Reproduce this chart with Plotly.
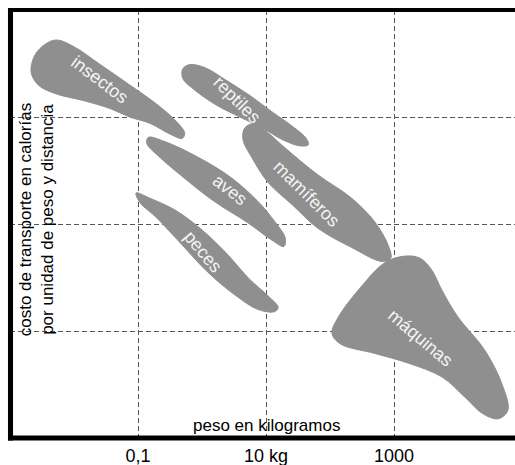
import plotly.graph_objects as go

# x in log10(kg), y in cost bands (grid units)
insectos_x = [-2.27, -1.98, -1.59, -1.13, -0.73, -0.42, -0.27, -0.31, -0.50, -0.81, -1.13, -1.44, -1.83, -2.30, -2.56, -2.67, -2.61, -2.45]
insectos_y = [3.72, 3.65, 3.49, 3.30, 3.13, 2.97, 2.85, 2.80, 2.84, 2.94, 3.00, 3.08, 3.15, 3.22, 3.30, 3.42, 3.58, 3.68]

reptiles_x = [-0.19, 0.05, 0.36, 0.75, 1.09, 1.42, 1.63, 1.66, 1.53, 1.25, 0.94, 0.59, 0.20, -0.11, -0.30, -0.30]
reptiles_y = [3.49, 3.46, 3.35, 3.20, 3.05, 2.91, 2.80, 2.74, 2.73, 2.79, 2.90, 3.00, 3.12, 3.25, 3.36, 3.45]

aves_x = [-0.84, -0.58, -0.08, 0.44, 0.86, 1.14, 1.30, 1.28, 1.09, 0.72, 0.17, -0.34, -0.69, -0.86]
aves_y = [2.81, 2.77, 2.63, 2.44, 2.22, 2.02, 1.87, 1.79, 1.85, 2.01, 2.22, 2.46, 2.64, 2.75]

peces_x = [-1.03, -0.81, -0.42, -0.03, 0.36, 0.75, 1.03, 1.19, 1.13, 0.88, 0.53, 0.09, -0.38, -0.73, -0.97]
peces_y = [2.29, 2.24, 2.13, 1.96, 1.74, 1.48, 1.33, 1.22, 1.18, 1.20, 1.33, 1.55, 1.85, 2.07, 2.20]

mamiferos_x = [0.67, 0.83, 1.00, 1.30, 1.81, 2.34, 2.70, 2.91, 2.95, 2.81, 2.34, 1.81, 1.41, 1.03, 0.78, 0.64]
mamiferos_y = [2.90, 2.94, 2.87, 2.71, 2.46, 2.24, 2.02, 1.80, 1.68, 1.65, 1.78, 1.96, 2.18, 2.39, 2.62, 2.79]

maquinas_x = [3.17, 3.41, 3.59, 3.75, 4.00, 4.42, 4.69, 4.78, 4.63, 4.38, 4.11, 3.75, 3.22, 2.70, 2.16, 2.03, 2.13, 2.44, 2.86]
maquinas_y = [1.70, 1.68, 1.57, 1.38, 1.13, 0.82, 0.50, 0.26, 0.18, 0.23, 0.38, 0.57, 0.70, 0.79, 0.88, 0.98, 1.13, 1.38, 1.64]

groups = ["insectos", "reptiles", "aves", "peces", "mamíferos", "máquinas"]
outlines_x = [insectos_x, reptiles_x, aves_x, peces_x, mamiferos_x, maquinas_x]
outlines_y = [insectos_y, reptiles_y, aves_y, peces_y, mamiferos_y, maquinas_y]

label_x = [-1.59, 0.55, 0.44, 0.02, 1.64, 3.41]
label_y = [3.35, 3.16, 2.32, 1.74, 2.28, 0.93]
label_angle = [37, 45, 38, 50, 45, 40]

x_tickvals = [-1, 1, 3]
x_ticktext = ["0,1", "10 kg", "1000"]
y_gridvals = [1, 2, 3]

FILL = "#8f8f8f"
FONT = "Liberation Sans, Arial, sans-serif"

fig = go.Figure()
for name, xs, ys in zip(groups, outlines_x, outlines_y):
    fig.add_trace(go.Scatter(
        x=xs + xs[:1], y=ys + ys[:1], mode="lines", fill="toself",
        fillcolor=FILL, line=dict(color=FILL, width=1, shape="spline", smoothing=1.0),
        name=name, hoverinfo="name", showlegend=False))

for name, lx, ly, ang in zip(groups, label_x, label_y, label_angle):
    fig.add_annotation(x=lx, y=ly, text=name, showarrow=False, textangle=ang,
                       font=dict(family=FONT, size=18, color="#f4f4f4"))

fig.add_annotation(x=0.507, y=0.003, xref="paper", yref="paper", xanchor="center", yanchor="bottom",
                   text="peso en kilogramos", showarrow=False,
                   font=dict(family=FONT, size=17, color="black"))
fig.add_annotation(x=0.008, y=0.51, xref="paper", yref="paper", xanchor="left", yanchor="middle",
                   text="costo de transporte en calorías<br>por unidad de peso y distancia",
                   showarrow=False, textangle=-90,
                   font=dict(family=FONT, size=17, color="black"))

# frame (filled bars in paper coordinates)
fig.add_shape(type="rect", xref="paper", yref="paper", x0=-0.004, x1=0.006, y0=-0.006, y1=1.0,
              fillcolor="black", line=dict(width=0), layer="above")
fig.add_shape(type="rect", xref="paper", yref="paper", x0=-0.004, x1=1, y0=0.9955, y1=1.0045,
              fillcolor="black", line=dict(width=0), layer="above")
fig.add_shape(type="rect", xref="paper", yref="paper", x0=-0.004, x1=1, y0=-0.006, y1=0.006,
              fillcolor="black", line=dict(width=0), layer="above")

fig.update_xaxes(range=[-3, -3 + 505 / 64], tickvals=x_tickvals, ticktext=x_ticktext,
                 showgrid=True, gridcolor="#555555", gridwidth=1.3, griddash="5px,3px",
                 zeroline=False, showline=False, ticks="outside", ticklen=1, tickcolor="rgba(0,0,0,0)",
                 layer="above traces", automargin=False,
                 tickfont=dict(family=FONT, size=18, color="black"), fixedrange=True)
fig.update_yaxes(range=[0, 4], tickvals=y_gridvals, showticklabels=False, automargin=False,
                 showgrid=True, gridcolor="#555555", gridwidth=1.3, griddash="5px,3px",
                 zeroline=False, showline=False, ticks="", layer="above traces", fixedrange=True)

fig.update_layout(width=515, height=465, margin=dict(l=10, r=0, t=10, b=27),
                  plot_bgcolor="white", paper_bgcolor="white", showlegend=False)

fig.write_html("out.html", config={"displayModeBar": False},
               post_script="document.body.style.margin='0';document.body.style.overflow='hidden';")
